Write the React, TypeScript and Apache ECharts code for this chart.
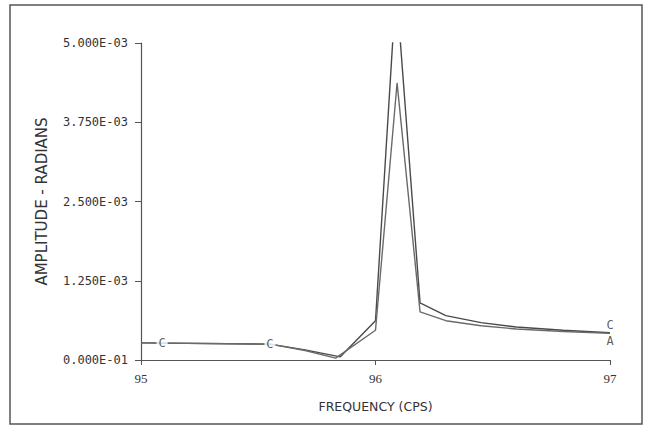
import React, { useEffect, useRef } from "react";
import * as echarts from "echarts";

const yTickLabels = ["0.000E-01", "1.250E-03", "2.500E-03", "3.750E-03", "5.000E-03"];
const xTickLabels = ["95", "96", "97"];

const seriesC: [number, number][] = [
  [95.0, 0.00027], [95.55, 0.00025], [95.7, 0.00016], [95.85, 0.00005],
  [96.0, 0.00062], [96.088, 0.0059], [96.19, 0.0009], [96.3, 0.00070],
  [96.45, 0.00059], [96.6, 0.00052], [96.8, 0.00047], [97.0, 0.00043],
];
const seriesA: [number, number][] = [
  [95.0, 0.00027], [95.55, 0.00025], [95.7, 0.00015], [95.83, 0.00003],
  [96.0, 0.00047], [96.092, 0.00437], [96.19, 0.00076], [96.3, 0.00062],
  [96.45, 0.00054], [96.6, 0.00049], [96.8, 0.00045], [97.0, 0.00042],
];
const curveMarks: { letter: string; point: [number, number]; pos: string }[] = [
  { letter: "C", point: [95.09, 0.000268], pos: "inside" },
  { letter: "C", point: [95.55, 0.00025], pos: "inside" },
  { letter: "C", point: [97.0, 0.00043], pos: "top" },
  { letter: "A", point: [97.0, 0.00042], pos: "bottom" },
];

export default function App() {
  const ref = useRef<HTMLDivElement>(null);
  useEffect(() => {
    if (!ref.current) return;
    const chart = echarts.init(ref.current, null, { renderer: "svg" });
    const lineColor = "#4a4a4a";
    chart.setOption({
      animation: false,
      backgroundColor: "#ffffff",
      grid: { left: 141, right: 39, top: 43, bottom: 73 },
      graphic: [
        {
          type: "rect",
          shape: { x: 10, y: 5, width: 632, height: 419 },
          style: { fill: "none", stroke: "#555", lineWidth: 1.5 },
          silent: true,
        },
      ],
      xAxis: {
        type: "value",
        min: 95,
        max: 97,
        interval: 1,
        name: "FREQUENCY (CPS)",
        nameLocation: "middle",
        nameGap: 40,
        nameTextStyle: { fontFamily: "DejaVu Sans", fontSize: 12.5, color: "#333" },
        axisLine: { lineStyle: { color: "#555", width: 1.2 } },
        axisTick: { length: 5, inside: false, lineStyle: { color: "#555" } },
        axisLabel: {
          margin: 12,
          fontFamily: "Liberation Serif",
          fontSize: 13,
          color: "#333",
          formatter: (v: number) => xTickLabels[Math.round(v - 95)] ?? "",
        },
        splitLine: { show: false },
      },
      yAxis: {
        type: "value",
        min: 0,
        max: 0.005,
        interval: 0.00125,
        name: "AMPLITUDE - RADIANS",
        nameLocation: "middle",
        nameGap: 92,
        nameTextStyle: { fontFamily: "DejaVu Sans", fontSize: 15, color: "#333" },
        axisLine: { show: true, lineStyle: { color: "#555", width: 1.2 } },
        axisTick: { show: true, length: 6, lineStyle: { color: "#555" } },
        axisLabel: {
          margin: 13,
          fontFamily: "DejaVu Sans Mono",
          fontSize: 12,
          color: "#333",
          formatter: (v: number) => yTickLabels[Math.round(v / 0.00125)] ?? "",
        },
        splitLine: { show: false },
      },
      series: [
        {
          name: "C",
          type: "line",
          data: seriesC,
          symbol: "none",
          clip: true,
          lineStyle: { color: lineColor, width: 1.4 },
          z: 2,
        },
        {
          name: "A",
          type: "line",
          data: seriesA,
          symbol: "none",
          clip: true,
          lineStyle: { color: "#6a6a6a", width: 1.4 },
          z: 2,
        },
        {
          type: "scatter",
          symbol: "circle",
          symbolSize: 2,
          itemStyle: { color: "rgba(0,0,0,0)" },
          clip: false,
          labelLayout: { hideOverlap: false },
          data: curveMarks.map((m) => ({
            value: m.point,
            label: {
              show: true,
              formatter: m.letter,
              position: m.pos,
              distance: 1,
              offset: m.pos === "inside" ? [0, 0] : [7, 0],
              fontFamily: "DejaVu Sans Mono",
              fontSize: 12,
              color: "#333",
              backgroundColor: m.pos === "inside" ? "#fff" : "transparent",
              padding: m.pos === "inside" ? [0, 2] : 0,
            },
          })),
          z: 5,
          silent: true,
        },
      ],
    });
    return () => chart.dispose();
  }, []);
  return (
    <div
      ref={ref}
      style={{ position: "fixed", left: 0, top: 0, width: 649, height: 433, background: "#fff" }}
    />
  );
}
